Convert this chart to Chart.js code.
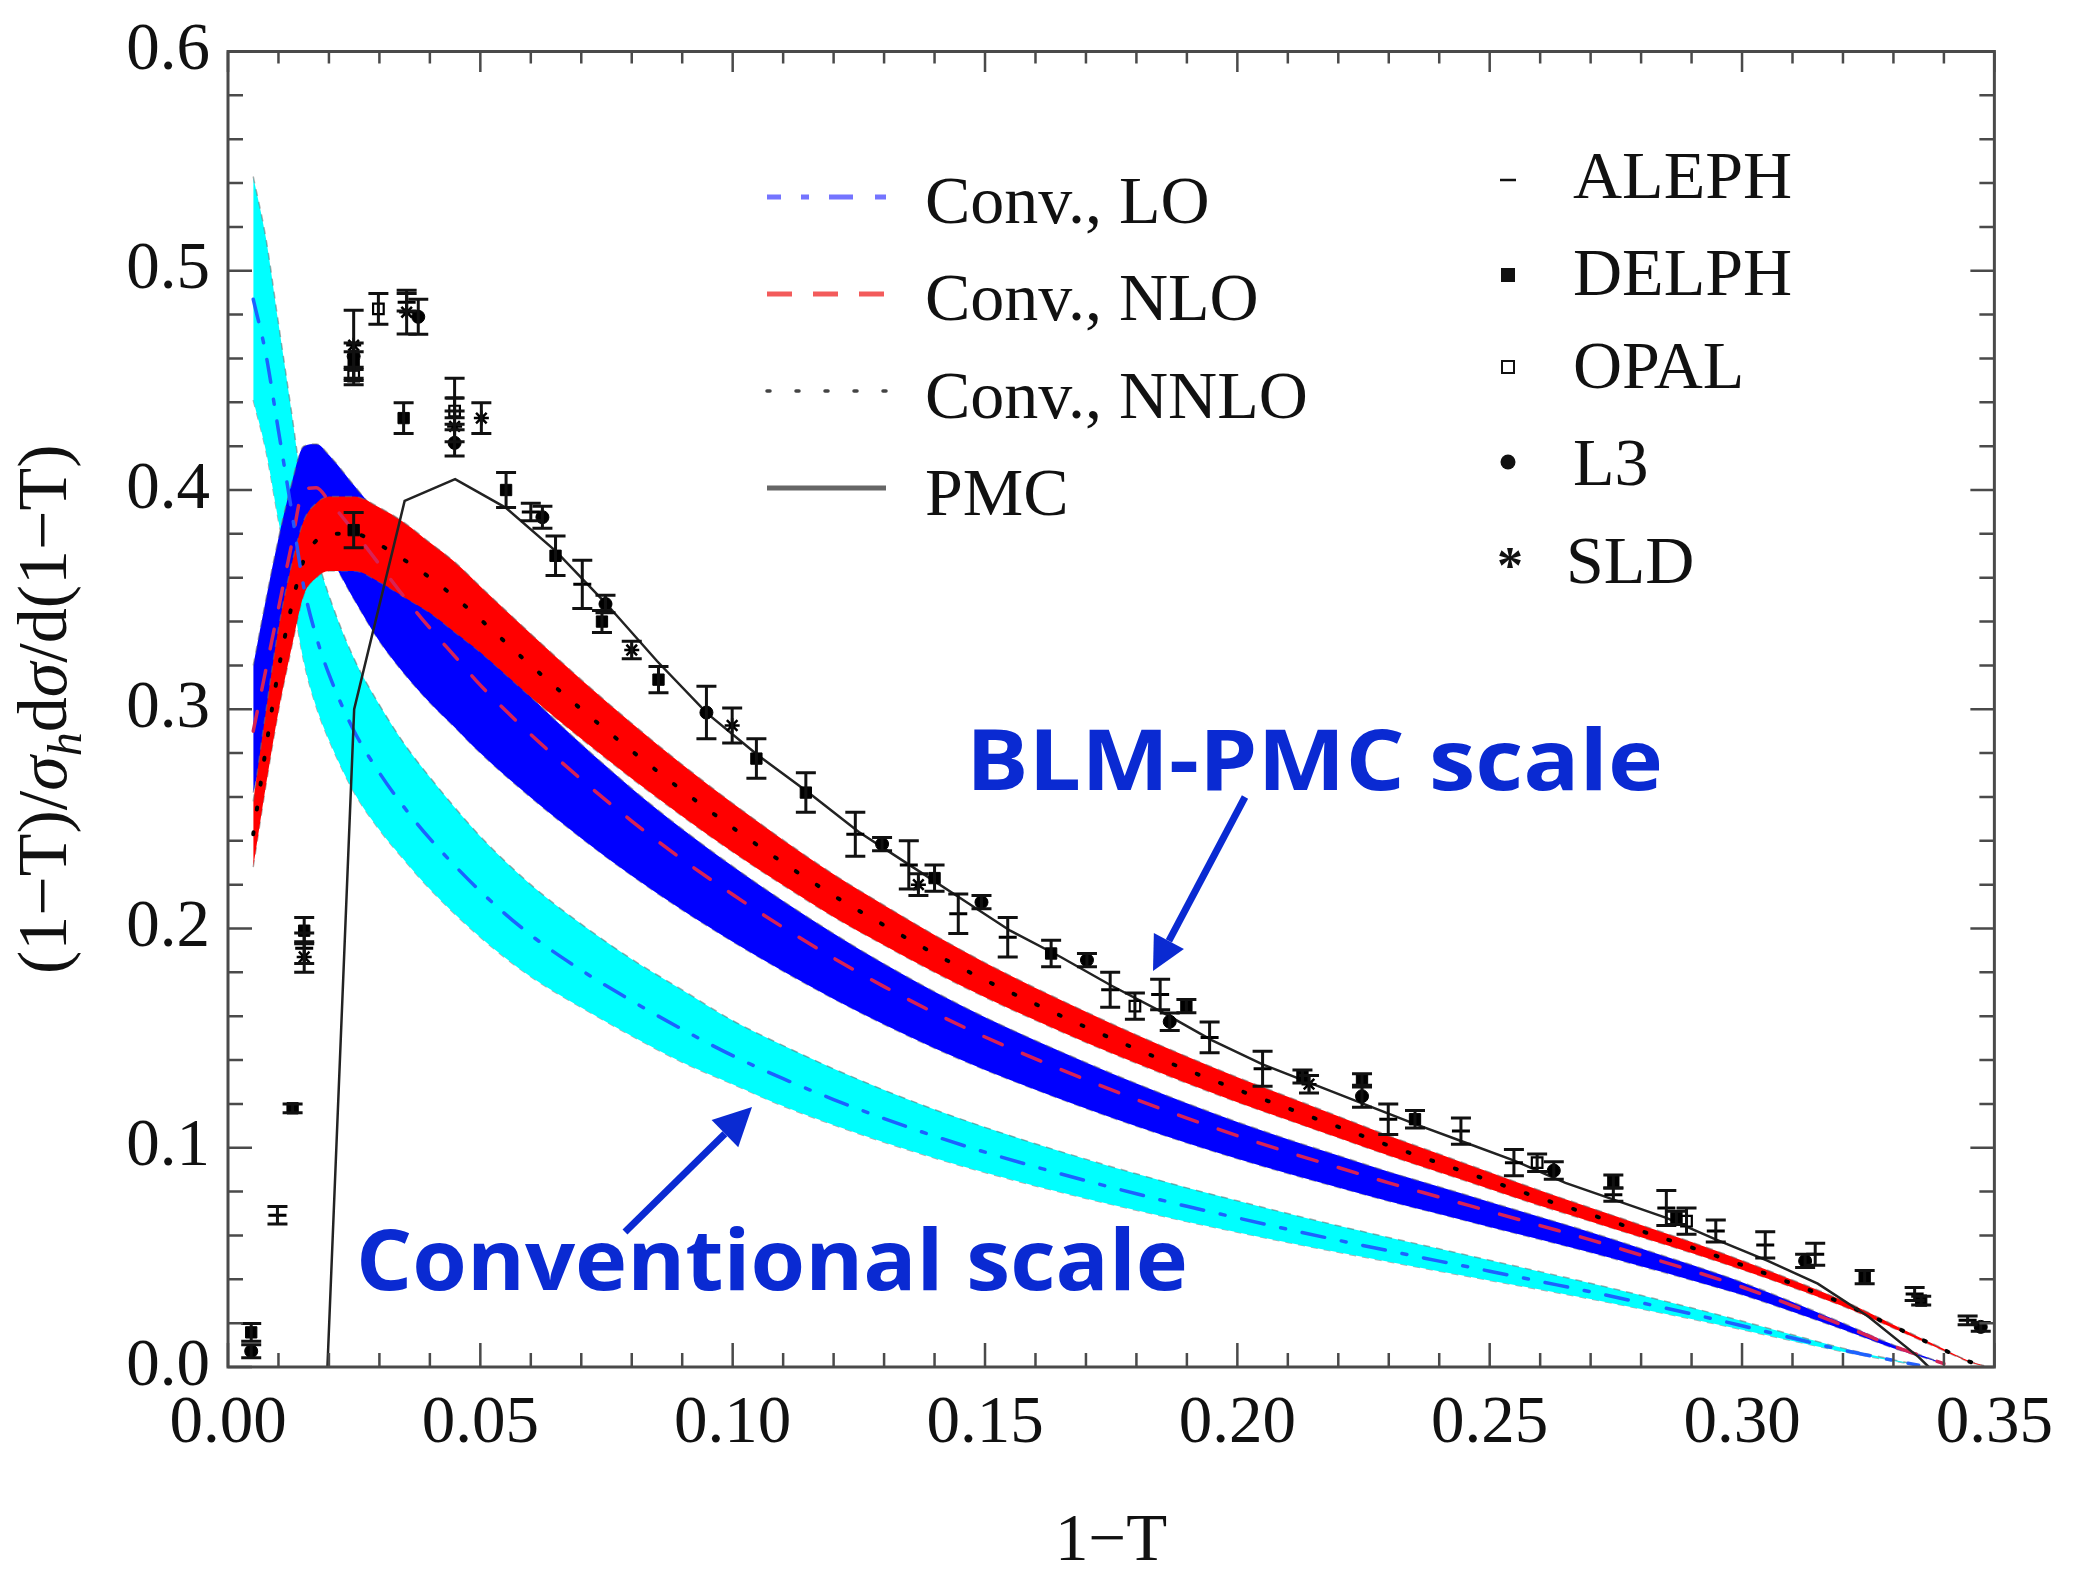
<!DOCTYPE html>
<html>
<head>
<meta charset="utf-8">
<title>Thrust distribution</title>
<script src="https://cdn.jsdelivr.net/npm/chart.js@4.4.1/dist/chart.umd.min.js"></script>
<style>
  html, body { margin: 0; padding: 0; background: #fff; }
  #chart { display: block; }
</style>
</head>
<body>
<canvas id="chart" width="2077" height="1578"></canvas>
<script>
// ---- axis labels ----
const xTickLabels = ['0.00', '0.05', '0.10', '0.15', '0.20', '0.25', '0.30', '0.35'];
const yTickLabels = ['0.0', '0.1', '0.2', '0.3', '0.4', '0.5', '0.6'];

// ---- conventional LO band (cyan) ----
const convLoX = [0.005, 0.0075, 0.010, 0.0125, 0.015, 0.0175, 0.020, 0.025, 0.030, 0.035, 0.040, 0.050, 0.060, 0.070, 0.080, 0.090, 0.100, 0.110, 0.120, 0.130, 0.140, 0.150, 0.160, 0.170, 0.180, 0.190, 0.200, 0.210, 0.220, 0.230, 0.240, 0.250, 0.260, 0.270, 0.280, 0.290, 0.300, 0.310, 0.320, 0.330, 0.335];
const convLoMid = [0.487, 0.462, 0.427, 0.392, 0.356, 0.333, 0.316, 0.290, 0.271, 0.255, 0.241, 0.217, 0.197, 0.181, 0.167, 0.154, 0.142, 0.1315, 0.122, 0.1133, 0.1053, 0.098, 0.0913, 0.085, 0.079, 0.0733, 0.068, 0.0628, 0.0578, 0.053, 0.0483, 0.0437, 0.039, 0.0343, 0.0293, 0.0242, 0.0188, 0.0132, 0.0077, 0.003, 0.0008];
const convLoMin = [0.441, 0.418, 0.386, 0.355, 0.322, 0.301, 0.286, 0.262, 0.245, 0.231, 0.218, 0.196, 0.178, 0.164, 0.151, 0.139, 0.129, 0.119, 0.1104, 0.1025, 0.0953, 0.0887, 0.0826, 0.0769, 0.0715, 0.0663, 0.0615, 0.0568, 0.0523, 0.048, 0.0437, 0.0395, 0.0353, 0.031, 0.0265, 0.0219, 0.017, 0.0119, 0.007, 0.0027, 0.0007];
const convLoMax = [0.543, 0.515, 0.476, 0.437, 0.397, 0.371, 0.352, 0.323, 0.302, 0.284, 0.269, 0.242, 0.220, 0.202, 0.186, 0.172, 0.158, 0.1466, 0.136, 0.1263, 0.1174, 0.1093, 0.1018, 0.0948, 0.0881, 0.0817, 0.0758, 0.070, 0.0644, 0.0591, 0.0539, 0.0487, 0.0435, 0.0382, 0.0327, 0.027, 0.021, 0.0147, 0.0086, 0.0033, 0.0009];

// ---- conventional NLO band (blue) ----
const convNloX = [0.005, 0.0075, 0.010, 0.0125, 0.015, 0.0175, 0.020, 0.025, 0.030, 0.035, 0.040, 0.045, 0.050, 0.060, 0.070, 0.080, 0.090, 0.100, 0.110, 0.120, 0.130, 0.140, 0.150, 0.160, 0.170, 0.180, 0.190, 0.200, 0.210, 0.220, 0.230, 0.240, 0.250, 0.260, 0.270, 0.280, 0.290, 0.300, 0.310, 0.320, 0.330, 0.335, 0.340];
const convNloMid = [0.290, 0.318, 0.346, 0.374, 0.400, 0.401, 0.395, 0.381, 0.366, 0.351, 0.337, 0.324, 0.311, 0.2885, 0.268, 0.249, 0.2315, 0.2155, 0.2005, 0.1865, 0.1735, 0.1615, 0.1505, 0.1405, 0.131, 0.122, 0.1135, 0.1055, 0.098, 0.091, 0.084, 0.0775, 0.071, 0.0645, 0.058, 0.051, 0.044, 0.0365, 0.028, 0.019, 0.0095, 0.0055, 0.0015];
const convNloMin = [0.262, 0.287, 0.312, 0.340, 0.377, 0.377, 0.370, 0.350, 0.331, 0.316, 0.303, 0.2916, 0.280, 0.2597, 0.2412, 0.2241, 0.2084, 0.194, 0.1805, 0.1679, 0.1562, 0.1454, 0.1355, 0.1265, 0.1179, 0.1098, 0.1022, 0.095, 0.0882, 0.0819, 0.0756, 0.0698, 0.0639, 0.0581, 0.0522, 0.0459, 0.0396, 0.0329, 0.0252, 0.0171, 0.0086, 0.005, 0.0014];
const convNloMax = [0.320, 0.350, 0.378, 0.402, 0.420, 0.421, 0.416, 0.402, 0.388, 0.372, 0.357, 0.3434, 0.3297, 0.3058, 0.2841, 0.2639, 0.2454, 0.2284, 0.2125, 0.1977, 0.1839, 0.1712, 0.1595, 0.1489, 0.1389, 0.1293, 0.1203, 0.1118, 0.1039, 0.0965, 0.089, 0.0822, 0.0753, 0.0684, 0.0615, 0.0541, 0.0466, 0.0387, 0.0297, 0.0201, 0.0101, 0.0058, 0.0016];

// ---- conventional NNLO band (red) ----
const convNnloX = [0.005, 0.0075, 0.010, 0.0125, 0.015, 0.0175, 0.020, 0.025, 0.030, 0.035, 0.040, 0.045, 0.050, 0.060, 0.070, 0.080, 0.090, 0.100, 0.110, 0.120, 0.130, 0.140, 0.150, 0.160, 0.170, 0.180, 0.190, 0.200, 0.210, 0.220, 0.230, 0.240, 0.250, 0.260, 0.270, 0.280, 0.290, 0.300, 0.310, 0.320, 0.330, 0.340, 0.345, 0.348];
const convNnloMid = [0.243, 0.282, 0.318, 0.346, 0.368, 0.377, 0.380, 0.380, 0.375, 0.368, 0.360, 0.351, 0.341, 0.320, 0.300, 0.281, 0.263, 0.246, 0.230, 0.215, 0.2015, 0.1885, 0.1765, 0.1655, 0.155, 0.145, 0.1355, 0.1265, 0.118, 0.1095, 0.101, 0.093, 0.085, 0.077, 0.0695, 0.062, 0.0545, 0.0465, 0.038, 0.029, 0.0185, 0.0078, 0.0025, 0.0005];
const convNnloMin = [0.228, 0.265, 0.299, 0.327, 0.352, 0.360, 0.363, 0.363, 0.358, 0.351, 0.344, 0.335, 0.326, 0.3056, 0.2865, 0.2684, 0.2512, 0.2349, 0.2197, 0.2053, 0.1924, 0.180, 0.1686, 0.1581, 0.148, 0.1385, 0.1294, 0.1208, 0.1127, 0.1046, 0.0965, 0.0888, 0.0812, 0.0735, 0.0664, 0.0592, 0.052, 0.0444, 0.0363, 0.0277, 0.0177, 0.0074, 0.0023, 0.0004];
const convNnloMax = [0.258, 0.299, 0.337, 0.365, 0.386, 0.394, 0.397, 0.397, 0.392, 0.385, 0.376, 0.367, 0.356, 0.3344, 0.3135, 0.2936, 0.2748, 0.2571, 0.2404, 0.2247, 0.2106, 0.197, 0.1844, 0.1729, 0.162, 0.1515, 0.1416, 0.1322, 0.1233, 0.1144, 0.1055, 0.0972, 0.0888, 0.0805, 0.0726, 0.0648, 0.057, 0.0486, 0.0397, 0.0303, 0.0193, 0.0082, 0.0027, 0.0006];

// ---- PMC prediction ----
const pmcX = [0.0197, 0.025, 0.035, 0.045, 0.055, 0.065, 0.075, 0.085, 0.095, 0.105, 0.115, 0.125, 0.135, 0.145, 0.155, 0.165, 0.175, 0.185, 0.195, 0.205, 0.215, 0.225, 0.235, 0.245, 0.255, 0.265, 0.275, 0.285, 0.295, 0.305, 0.315, 0.325, 0.335, 0.337];
const pmcY = [0.0, 0.300, 0.395, 0.405, 0.392, 0.372, 0.348, 0.322, 0.298, 0.279, 0.262, 0.244, 0.229, 0.214, 0.199, 0.187, 0.174, 0.162, 0.149, 0.138, 0.129, 0.120, 0.111, 0.1025, 0.094, 0.084, 0.076, 0.068, 0.058, 0.0485, 0.038, 0.023, 0.0045, 0.0];

// ---- LEP / SLC measurements ----
const alephX = [0.0098, 0.0151, 0.0354, 0.0449, 0.0600, 0.0702, 0.1243, 0.1349, 0.1447, 0.1545, 0.1748, 0.1847, 0.1945, 0.2050, 0.2299, 0.2443, 0.2548, 0.2745, 0.2850, 0.2948, 0.3046, 0.3145, 0.3342, 0.3447];
const alephY = [0.0692, 0.191, 0.4856, 0.442, 0.390, 0.357, 0.243, 0.229, 0.2067, 0.196, 0.1721, 0.1699, 0.1503, 0.136, 0.113, 0.1076, 0.0932, 0.0786, 0.0725, 0.062, 0.0557, 0.0514, 0.0333, 0.0213];
const alephErr = [0.004, 0.007, 0.004, 0.009, 0.004, 0.011, 0.010, 0.011, 0.009, 0.009, 0.008, 0.007, 0.007, 0.008, 0.007, 0.006, 0.006, 0.003, 0.008, 0.005, 0.006, 0.005, 0.003, 0.002];

const delphX = [0.0046, 0.0128, 0.0151, 0.0249, 0.0249, 0.0348, 0.0551, 0.0649, 0.0741, 0.0853, 0.1047, 0.1145, 0.1400, 0.1631, 0.1899, 0.2129, 0.2247, 0.2352, 0.2745, 0.2870, 0.3243, 0.3355];
const delphY = [0.0158, 0.118, 0.199, 0.457, 0.3817, 0.4328, 0.400, 0.370, 0.340, 0.3135, 0.2775, 0.262, 0.223, 0.1886, 0.1646, 0.1325, 0.1307, 0.113, 0.0846, 0.068, 0.041, 0.0303];
const delphErr = [0.004, 0.002, 0.006, 0.006, 0.008, 0.007, 0.008, 0.009, 0.005, 0.006, 0.009, 0.009, 0.006, 0.006, 0.003, 0.003, 0.003, 0.004, 0.003, 0.003, 0.003, 0.002];

const opalX = [0.0249, 0.0298, 0.0449, 0.1797, 0.2594, 0.2890];
const opalY = [0.452, 0.4826, 0.436, 0.1646, 0.0932, 0.0665];
const opalErr = [0.004, 0.007, 0.006, 0.006, 0.004, 0.006];

const l3X = [0.0046, 0.0249, 0.0377, 0.0449, 0.0623, 0.0748, 0.0948, 0.1296, 0.1493, 0.1702, 0.1866, 0.2247, 0.2627, 0.3125, 0.3473];
const l3Y = [0.0072, 0.461, 0.479, 0.4215, 0.3876, 0.348, 0.2985, 0.2385, 0.212, 0.1856, 0.1575, 0.1235, 0.0896, 0.0484, 0.0183];
const l3Err = [0.003, 0.006, 0.008, 0.006, 0.005, 0.004, 0.012, 0.003, 0.003, 0.003, 0.004, 0.005, 0.004, 0.003, 0.002];

const sldX = [0.0151, 0.0249, 0.0354, 0.0449, 0.0502, 0.0800, 0.0999, 0.1368, 0.2142];
const sldY = [0.187, 0.466, 0.4811, 0.429, 0.4328, 0.327, 0.2926, 0.220, 0.129];
const sldErr = [0.007, 0.016, 0.010, 0.007, 0.007, 0.004, 0.008, 0.005, 0.004];

const SERIF = '"Liberation Serif", "Times New Roman", serif';
const ANNOT_BLUE = '#0a2ad2';
const EDGE = 'rgba(110,110,110,0.55)';

const pts = (xs, ys) => xs.map((x, i) => ({ x, y: ys[i] }));

function bandEdge(xs, ys, fillColor, order, fillNext) {
  return {
    data: pts(xs, ys),
    borderColor: EDGE,
    borderWidth: 1.5,
    borderDash: [7, 6],
    backgroundColor: fillColor,
    fill: fillNext ? '+1' : false,
    pointRadius: 0,
    cubicInterpolationMode: 'monotone',
    order
  };
}

function centreLine(xs, ys, color, dash, width, order) {
  return {
    data: pts(xs, ys),
    borderColor: color,
    borderWidth: width,
    borderDash: dash,
    borderCapStyle: 'round',
    fill: false,
    pointRadius: 0,
    cubicInterpolationMode: 'monotone',
    order
  };
}

function measurement(xs, ys, errs, style, radius, fill, width) {
  return {
    type: 'scatter',
    data: pts(xs, ys),
    errors: errs,
    showLine: false,
    pointStyle: style,
    pointRadius: radius,
    pointBackgroundColor: fill,
    pointBorderColor: '#000',
    pointBorderWidth: width,
    order: 1
  };
}

// vertical error bars with caps
const errorBars = {
  id: 'errorBars',
  afterDatasetsDraw(chart) {
    const { ctx, scales: { x, y } } = chart;
    ctx.save();
    ctx.strokeStyle = '#111';
    ctx.lineWidth = 3;
    chart.data.datasets.forEach(ds => {
      if (!ds.errors) return;
      ds.data.forEach((p, j) => {
        const px = x.getPixelForValue(p.x);
        const top = y.getPixelForValue(p.y + ds.errors[j]);
        const bot = y.getPixelForValue(p.y - ds.errors[j]);
        ctx.beginPath();
        ctx.moveTo(px, top); ctx.lineTo(px, bot);
        ctx.moveTo(px - 10, top); ctx.lineTo(px + 10, top);
        ctx.moveTo(px - 10, bot); ctx.lineTo(px + 10, bot);
        ctx.stroke();
      });
    });
    ctx.restore();
  }
};

// box frame with inward ticks on every side
const frame = {
  id: 'frame',
  afterDraw(chart) {
    const { ctx, chartArea: a, scales: { x, y } } = chart;
    ctx.save();
    ctx.strokeStyle = '#4a4a4a';
    ctx.lineWidth = 3;
    ctx.strokeRect(a.left, a.top, a.right - a.left, a.bottom - a.top);
    ctx.lineWidth = 2.5;
    ctx.beginPath();
    for (let k = 0; k <= 35; k++) {
      const px = x.getPixelForValue(k * 0.01);
      const len = k % 5 === 0 ? 24 : 14;
      ctx.moveTo(px, a.bottom); ctx.lineTo(px, a.bottom - len);
      ctx.moveTo(px, a.top); ctx.lineTo(px, a.top + len * 0.85);
    }
    for (let k = 0; k <= 30; k++) {
      const py = y.getPixelForValue(k * 0.02);
      const len = k % 5 === 0 ? 24 : 15;
      ctx.moveTo(a.left, py); ctx.lineTo(a.left + len, py);
      ctx.moveTo(a.right, py); ctx.lineTo(a.right - len, py);
    }
    ctx.stroke();
    ctx.restore();
  }
};

// rotated y title with italic sigma and subscript
const yTitle = {
  id: 'yTitle',
  afterDraw(chart) {
    const { ctx, chartArea: a } = chart;
    const size = 70;
    const parts = [
      { t: '(1\u2212T)/', f: `${size}px ${SERIF}`, dy: 0 },
      { t: '\u03c3', f: `italic ${size}px ${SERIF}`, dy: 0 },
      { t: 'h', f: `italic ${Math.round(size * 0.68)}px ${SERIF}`, dy: size * 0.22 },
      { t: 'd', f: `${size}px ${SERIF}`, dy: 0 },
      { t: '\u03c3', f: `italic ${size}px ${SERIF}`, dy: 0 },
      { t: '/d(1\u2212T)', f: `${size}px ${SERIF}`, dy: 0 }
    ];
    ctx.save();
    let total = 0;
    parts.forEach(p => { ctx.font = p.f; p.w = ctx.measureText(p.t).width; total += p.w; });
    ctx.translate(66, (a.top + a.bottom) / 2);
    ctx.rotate(-Math.PI / 2);
    ctx.fillStyle = '#111';
    ctx.textBaseline = 'alphabetic';
    let cx = -total / 2;
    parts.forEach(p => { ctx.font = p.f; ctx.fillText(p.t, cx, p.dy); cx += p.w; });
    ctx.restore();
  }
};

// two-column key inside the plot
const key = {
  id: 'key',
  afterDraw(chart) {
    const { ctx } = chart;
    ctx.save();
    ctx.font = `68px ${SERIF}`;
    ctx.fillStyle = '#111';
    ctx.textBaseline = 'alphabetic';

    const rows = [
      { text: 'Conv., LO', color: 'rgba(70,70,255,0.75)', dash: [14, 20, 8, 20, 24, 22], w: 5 },
      { text: 'Conv., NLO', color: 'rgba(240,50,50,0.8)', dash: [25, 21], w: 5 },
      { text: 'Conv., NNLO', color: '#444', dash: [3, 26], w: 3.5 },
      { text: 'PMC', color: '#666', dash: [], w: 5 }
    ];
    rows.forEach((r, i) => {
      const ly = 197 + i * 97;
      ctx.save();
      ctx.strokeStyle = r.color;
      ctx.lineWidth = r.w;
      ctx.setLineDash(r.dash);
      ctx.lineCap = r.dash.length && r.dash[0] < 5 ? 'round' : 'butt';
      ctx.beginPath();
      ctx.moveTo(767, ly); ctx.lineTo(886, ly);
      ctx.stroke();
      ctx.restore();
      ctx.fillText(r.text, 925, 223 + i * 97.3);
    });

    const exps = ['ALEPH', 'DELPH', 'OPAL', 'L3', 'SLD'];
    const mx = 1508;
    const marks = [180, 275, 367, 462, 557];
    const bases = [198, 295, 388, 485, 583];
    ctx.strokeStyle = '#111';
    ctx.lineWidth = 2.5;
    exps.forEach((name, i) => {
      const my = marks[i];
      ctx.fillStyle = '#111';
      if (i === 0) {
        ctx.beginPath(); ctx.moveTo(mx - 8, my); ctx.lineTo(mx + 8, my); ctx.stroke();
      } else if (i === 1) {
        ctx.fillRect(mx - 7, my - 7, 14, 14);
      } else if (i === 2) {
        ctx.lineWidth = 2;
        ctx.strokeRect(mx - 6, my - 6, 12, 12);
        ctx.lineWidth = 2.5;
      } else if (i === 3) {
        ctx.beginPath(); ctx.arc(mx, my, 7.5, 0, Math.PI * 2); ctx.fill();
      } else {
        ctx.save();
        ctx.font = `bold 52px ${SERIF}`;
        ctx.textAlign = 'center';
        ctx.fillText('*', mx + 2, my + 26);
        ctx.restore();
      }
      ctx.fillStyle = '#111';
      ctx.fillText(name, i === 4 ? 1566 : 1573, bases[i]);
    });
    ctx.restore();
  }
};

function arrow(ctx, x0, y0, x1, y1, len, half) {
  const ang = Math.atan2(y1 - y0, x1 - x0);
  const bx = x1 - Math.cos(ang) * len, by = y1 - Math.sin(ang) * len;
  ctx.beginPath();
  ctx.moveTo(x0, y0); ctx.lineTo(bx, by);
  ctx.stroke();
  ctx.beginPath();
  ctx.moveTo(x1, y1);
  ctx.lineTo(bx + Math.sin(ang) * half, by - Math.cos(ang) * half);
  ctx.lineTo(bx - Math.sin(ang) * half, by + Math.cos(ang) * half);
  ctx.closePath();
  ctx.fill();
}

function stretchedText(ctx, text, left, base, width) {
  const w = ctx.measureText(text).width;
  ctx.save();
  ctx.translate(left, base);
  ctx.scale(width / w, 1);
  ctx.fillText(text, 0, 0);
  ctx.restore();
}

// bold blue callouts
const callouts = {
  id: 'callouts',
  afterDraw(chart) {
    const { ctx } = chart;
    ctx.save();
    ctx.fillStyle = ANNOT_BLUE;
    ctx.strokeStyle = ANNOT_BLUE;
    ctx.font = 'bold 85px "Open Sans", "DejaVu Sans", sans-serif';
    ctx.textBaseline = 'alphabetic';
    stretchedText(ctx, 'BLM-PMC scale', 966, 790, 697);
    stretchedText(ctx, 'Conventional scale', 356, 1290, 832);
    ctx.lineWidth = 7;
    arrow(ctx, 1245, 797, 1153, 971, 34, 17);
    arrow(ctx, 625, 1232, 752, 1107, 38, 19);
    ctx.restore();
  }
};

const datasets = [
  bandEdge(convLoX, convLoMax, '#00ffff', 30, true),
  bandEdge(convLoX, convLoMin, '#00ffff', 30, false),
  bandEdge(convNloX, convNloMax, '#0000ff', 20, true),
  bandEdge(convNloX, convNloMin, '#0000ff', 20, false),
  bandEdge(convNnloX, convNnloMax, '#ff0000', 10, true),
  bandEdge(convNnloX, convNnloMin, '#ff0000', 10, false),
  centreLine(convLoX, convLoMid, 'rgba(30,90,255,0.95)', [23, 17, 5, 17], 3.5, 6),
  centreLine(convNloX, convNloMid, 'rgb(215,35,85)', [20, 22], 3.5, 6),
  centreLine(convNnloX, convNnloMid, '#000', [2, 23], 4, 6),
  {
    data: pts(pmcX, pmcY),
    borderColor: '#222',
    borderWidth: 2.5,
    fill: false,
    pointRadius: 0,
    order: 4
  },
  measurement(alephX, alephY, alephErr, 'line', 9, '#000', 3),
  measurement(delphX, delphY, delphErr, 'rect', 8, '#000', 1),
  measurement(opalX, opalY, opalErr, 'rect', 7.5, '#fff', 2.2),
  measurement(l3X, l3Y, l3Err, 'circle', 6.5, '#000', 1),
  measurement(sldX, sldY, sldErr, 'star', 7.5, '#000', 2.5)
];

new Chart(document.getElementById('chart'), {
  type: 'line',
  data: { datasets },
  options: {
    responsive: false,
    animation: false,
    devicePixelRatio: 1,
    events: [],
    layout: { padding: { top: 40, right: 70, left: 0, bottom: 0 } },
    plugins: {
      legend: { display: false },
      tooltip: { enabled: false }
    },
    scales: {
      x: {
        type: 'linear',
        min: 0,
        max: 0.35,
        grid: { display: false, drawTicks: false },
        border: { display: false },
        ticks: {
          stepSize: 0.05,
          padding: 24,
          maxRotation: 0,
          color: '#111',
          font: { family: SERIF, size: 67, lineHeight: 1 },
          callback: v => xTickLabels[Math.round(v / 0.05)]
        },
        title: {
          display: true,
          text: '1\u2212T',
          color: '#111',
          font: { family: SERIF, size: 67, lineHeight: 1 },
          padding: { top: 0, bottom: 2 }
        },
        afterFit: s => { s.height = 211; }
      },
      y: {
        type: 'linear',
        min: 0,
        max: 0.6,
        grid: { display: false, drawTicks: false },
        border: { display: false },
        ticks: {
          stepSize: 0.1,
          padding: 18,
          color: '#111',
          font: { family: SERIF, size: 67, lineHeight: 1 },
          callback: v => yTickLabels[Math.round(v / 0.1)]
        },
        afterFit: s => { s.width = 228; }
      }
    }
  },
  plugins: [errorBars, frame, yTitle, key, callouts]
});
</script>
</body>
</html>
